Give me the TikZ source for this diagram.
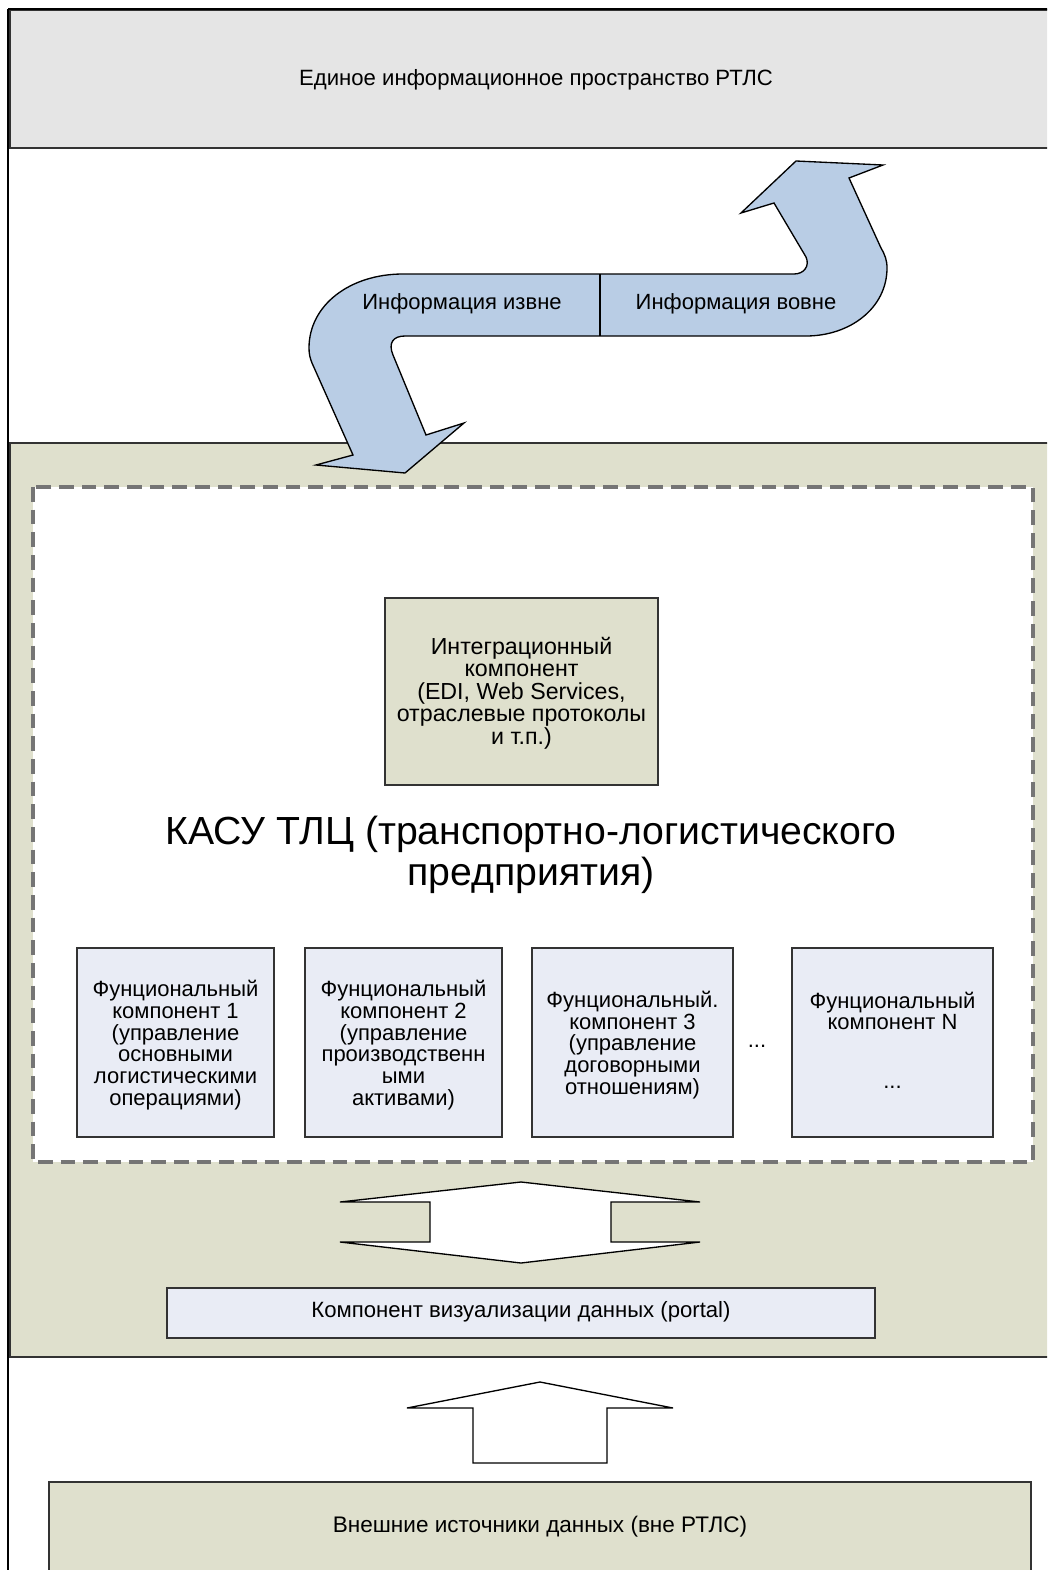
\documentclass[tikz,border=0pt]{standalone}
\usepackage{fontspec}
\setmainfont{Liberation Sans}
\begin{document}
\begin{tikzpicture}[x=0.75pt,y=-0.75pt,
  frame/.style={draw=black!80,line width=1.2pt},
  greybox/.style={frame,fill=gray!20},
  sandbox/.style={frame,fill=sand},
  bluebox/.style={frame,fill=paleblue},
  txt/.style={align=center,inner sep=0pt},
  fsmall/.style={font=\fontsize{16.6}{18}\selectfont},
  fbox/.style={font=\fontsize{16.5}{16.3}\selectfont},
  blockarrow/.style={draw=black,line width=1pt,line join=miter}]
\definecolor{sand}{HTML}{DFE0CD}
\definecolor{paleblue}{HTML}{E9ECF5}
\definecolor{flowblue}{HTML}{B9CDE5}
\definecolor{dashgrey}{HTML}{757575}
\useasboundingbox (0,0) rectangle (1047,1570);
\begin{scope}
\clip (0,0) rectangle (1047,1570);

% outer frame line on the left
\draw[line width=1.6pt] (8,9) -- (8,1575);

% top layer: shared information space
\draw[greybox] (10,10) rectangle (1065,148);
\draw[black,line width=1.5pt] (8,9.5) -- (1065,9.5);
\node[txt,fsmall] (space) at (536,80) {Единое информационное пространство РТЛС};

% middle layer
\draw[sandbox] (10,443) rectangle (1065,1357);
\draw[draw=dashgrey,line width=2.4pt,dash pattern=on 11pt off 6pt,fill=white] (33,487) rectangle (1033,1162);

% S-shaped exchange arrow
\draw[blockarrow,fill=flowblue]
  (405,473) -- (464,423) -- (426,435) -- (393,355)
  .. controls (388,343) and (393,336) .. (405,336)
  -- (806,336)
  .. controls (850,336) and (887,308) .. (887,268)
  .. controls (887,260) and (885,255) .. (881,248)
  -- (849,178) -- (883,165) -- (796,161) -- (741,213) -- (774,203)
  -- (806,257)
  .. controls (810,266) and (804,274) .. (794,274)
  -- (403,274)
  .. controls (350,274) and (309,305) .. (309,348)
  .. controls (309,354) and (310,358) .. (312,363)
  -- (353,455) -- (316,465) -- cycle;
\draw[line width=1pt] (600,274) -- (600,336);
\node[txt,font=\fontsize{16.5}{18}\selectfont] (inflow) at (462,304) {Информация извне};
\node[txt,font=\fontsize{16.5}{18}\selectfont] (outflow) at (736,304) {Информация вовне};

% integration component
\draw[sandbox] (385,598) rectangle (658,785);
\node[txt,font=\fontsize{17.4}{16.8}\selectfont] (integ) at (521.5,693)
  {Интеграционный\\компонент\\(EDI, Web Services,\\отраслевые протоколы\\и т.п.)};

\node[txt,font=\fontsize{29.4}{30.75}\selectfont] (kasu) at (531,855)
  {КАСУ ТЛЦ (транспортно-логистического\\предприятия)};

% functional components
\draw[bluebox] (77,948) rectangle (274,1137);
\draw[bluebox] (305,948) rectangle (502,1137);
\draw[bluebox] (532,948) rectangle (733,1137);
\draw[bluebox] (792,948) rectangle (993,1137);
\node[txt,fbox] (f1) at (175.5,1045)
  {Фунциональный\\компонент 1\\(управление\\основными\\логистическими\\операциями)};
\node[txt,fbox] (f2) at (403.5,1045)
  {Фунциональный\\компонент 2\\(управление\\производственн\\ыми\\активами)};
\node[txt,fbox] (f3) at (632.5,1045)
  {Фунциональный.\\компонент 3\\(управление\\договорными\\отношениям)};
\node[txt,fbox] (fn) at (892.5,1011) {Фунциональный\\компонент N};
\node[txt,fbox] (fndots) at (892.5,1087) {...};
\node[txt,fbox] (gap) at (757,1046) {...};

% two-way arrow between components and portal
\draw[blockarrow,fill=white]
  (521,1182) -- (700,1202) -- (611,1202) -- (611,1242) -- (700,1242)
  -- (521,1263) -- (340,1242) -- (430,1242) -- (430,1202) -- (340,1202) -- cycle;

% portal
\draw[bluebox] (167,1288) rectangle (875,1338);
\node[txt,fsmall] (portal) at (521,1312) {Компонент визуализации данных (portal)};

% upward arrow from external sources
\draw[blockarrow,fill=white]
  (540,1382) -- (673,1408) -- (607,1408) -- (607,1463) -- (473,1463)
  -- (473,1408) -- (407,1408) -- cycle;

% external sources
\draw[sandbox] (49,1482) rectangle (1031,1610);
\node[txt,font=\fontsize{16.9}{18}\selectfont] (ext) at (540,1527) {Внешние источники данных (вне РТЛС)};
\end{scope}
\end{tikzpicture}
\end{document}
